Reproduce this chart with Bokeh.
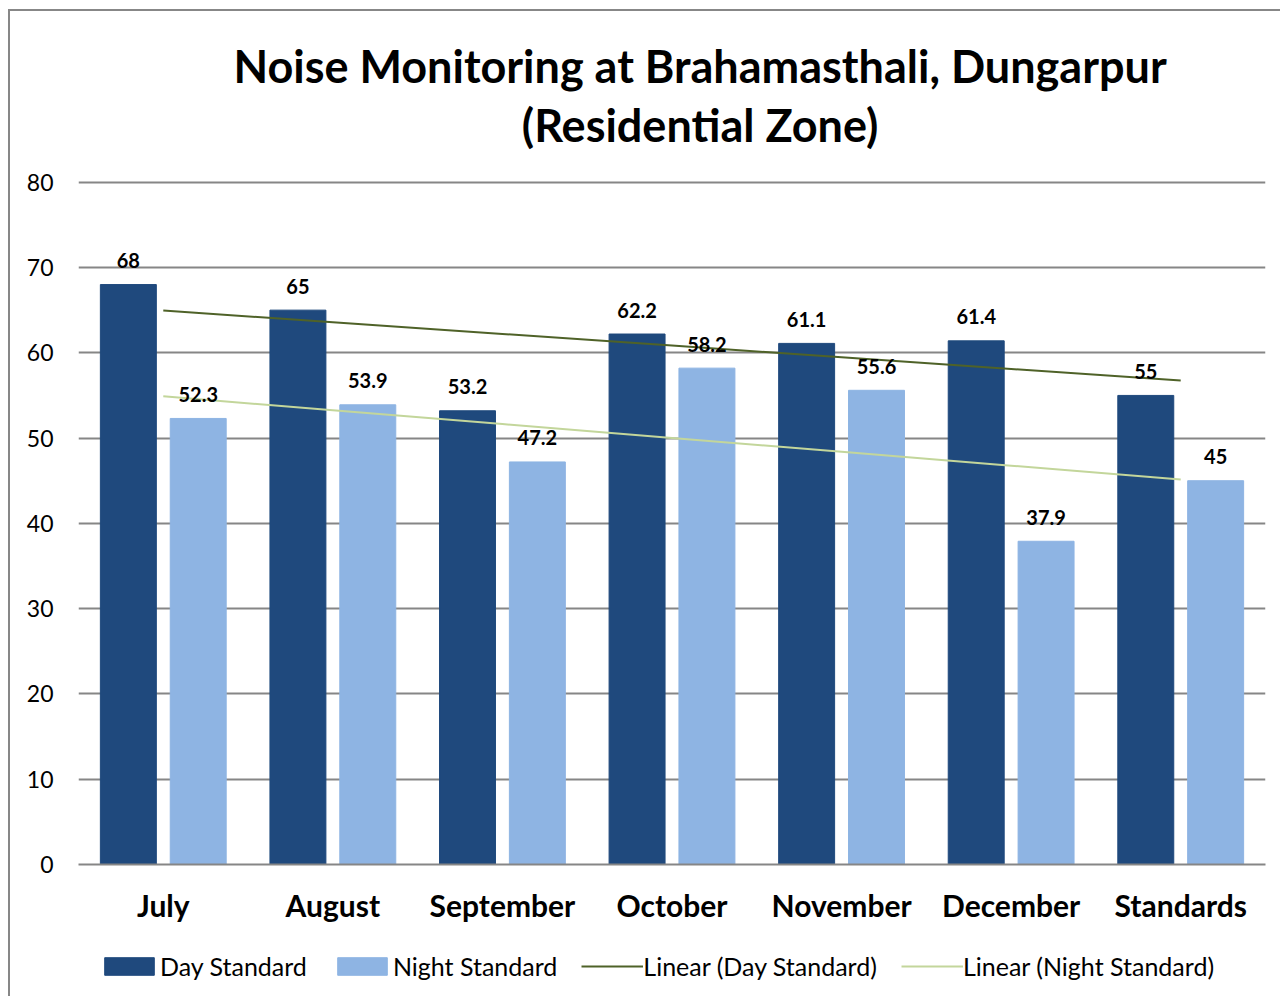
import numpy as np
from bokeh.plotting import figure
from bokeh.layouts import column
from bokeh.models import (ColumnDataSource, FactorRange, Range1d, FixedTicker, Legend,
                          LegendItem)
from bokeh.transform import dodge
from bokeh.core.properties import value
from bokeh.embed import file_html
from bokeh.resources import INLINE

months = ["July", "August", "September", "October", "November", "December", "Standards"]
day_standard = [68, 65, 53.2, 62.2, 61.1, 61.4, 55]
night_standard = [52.3, 53.9, 47.2, 58.2, 55.6, 37.9, 45]
y_ticks = [0, 10, 20, 30, 40, 50, 60, 70, 80]
title_lines = ["Noise Monitoring at Brahamasthali, Dungarpur", "(Residential Zone)"]
legend_labels = ["Day Standard", "Night Standard", "Linear (Day Standard)",
                 "Linear (Night Standard)"]

FONT = "Lato"
DAY_C = "#1F497D"
NIGHT_C = "#8EB4E3"
TREND_DAY_C = "#4F6228"
TREND_NIGHT_C = "#C3D69B"
GRID_C = "#868686"
W = 1270

def fmt(v):
    return ("%g" % v)

def strip(h):
    f = figure(width=W, height=h, x_range=Range1d(0, W), y_range=Range1d(0, h),
               x_axis_type=None, y_axis_type=None, output_backend="svg",
               toolbar_location=None, min_border=0)
    f.grid.grid_line_color = None
    f.outline_line_color = None
    return f

src = ColumnDataSource(dict(
    month=months,
    day=day_standard,
    night=night_standard,
    day_lbl=[fmt(v) for v in day_standard],
    night_lbl=[fmt(v) for v in night_standard],
))

xs = np.arange(1, len(months) + 1)
day_fit = np.polyval(np.polyfit(xs, day_standard, 1), xs)
night_fit = np.polyval(np.polyfit(xs, night_standard, 1), xs)

# ---- title strip ----
TH = 149
tf = strip(TH)
tf.text(x=[665, 665], y=[95, 36], text=title_lines, text_align="center",
        text_baseline="middle", text_font=value(FONT), text_font_style="bold",
        text_font_size="45px", text_color="black")

# ---- main chart ----
p = figure(x_range=FactorRange(*months, range_padding=0), y_range=Range1d(0, 80.2),
           frame_width=1187, frame_height=684, output_backend="svg", toolbar_location=None,
           min_border_left=68, min_border_right=15, min_border_top=20, min_border_bottom=70)
p.outline_line_color = None
p.background_fill_color = "white"

p.xgrid.grid_line_color = None
p.ygrid.grid_line_color = GRID_C
p.ygrid.grid_line_width = 2
p.yaxis.ticker = FixedTicker(ticks=y_ticks)

p.yaxis.axis_line_color = None
p.yaxis.major_tick_line_color = None
p.yaxis.minor_tick_line_color = None
p.yaxis.major_label_text_font = FONT
p.yaxis.major_label_text_font_size = "23px"
p.yaxis.major_label_text_color = "black"
p.yaxis.major_label_standoff = 19

p.xaxis.axis_line_color = GRID_C
p.xaxis.axis_line_width = 2
p.xaxis.major_tick_line_color = None
p.xaxis.minor_tick_line_color = None
p.xaxis.major_label_text_font = FONT
p.xaxis.major_label_text_font_size = "30px"
p.xaxis.major_label_text_font_style = "bold"
p.xaxis.major_label_text_color = "black"
p.xaxis.major_label_standoff = 16

off = 0.206
bw = 0.33
p.vbar(x=dodge("month", -off, range=p.x_range), top="day", width=bw, source=src,
       fill_color=DAY_C, line_color=DAY_C)
p.vbar(x=dodge("month", off, range=p.x_range), top="night", width=bw, source=src,
       fill_color=NIGHT_C, line_color=NIGHT_C)
p.line(x=months, y=day_fit, line_color=TREND_DAY_C, line_width=2)
p.line(x=months, y=night_fit, line_color=TREND_NIGHT_C, line_width=2)

for col, lbl, sgn in (("day", "day_lbl", -1), ("night", "night_lbl", 1)):
    p.text(x=dodge("month", sgn * off, range=p.x_range), y=col, text=lbl, source=src,
           text_align="center", text_baseline="middle", y_offset=-24,
           text_font=value(FONT), text_font_style="bold", text_font_size="20px",
           text_color="black")

# ---- legend strip (legend swatches only; their data lies outside the strip's range) ----
LH = 62
lf = strip(LH)
g1 = lf.vbar(x=[-500], top=[-500], width=1, fill_color=DAY_C, line_color=DAY_C)
g2 = lf.vbar(x=[-500], top=[-500], width=1, fill_color=NIGHT_C, line_color=NIGHT_C)
g3 = lf.line(x=[-500, -499], y=[-500, -500], line_color=TREND_DAY_C, line_width=2)
g4 = lf.line(x=[-500, -499], y=[-500, -500], line_color=TREND_NIGHT_C, line_width=2)
legend = Legend(items=[LegendItem(label=t, renderers=[g]) for t, g in
                       zip(legend_labels, [g1, g2, g3, g4])],
                orientation="horizontal", location=(20, 15))
legend.border_line_color = None
legend.background_fill_alpha = 0
legend.label_text_font = FONT
legend.label_text_font_size = "25px"
legend.label_text_color = "black"
legend.glyph_width = 62
legend.glyph_height = 22
legend.label_standoff = 0
legend.spacing = 24
legend.padding = 0
legend.margin = 0
lf.add_layout(legend, "center")

layout = column(tf, p, lf, spacing=0)
layout.styles = {"border-left": "2px solid #878787", "border-top": "2px solid #878787",
                 "margin-left": "8px", "margin-top": "9px"}

open("out.html", "w").write(file_html(layout, INLINE))
